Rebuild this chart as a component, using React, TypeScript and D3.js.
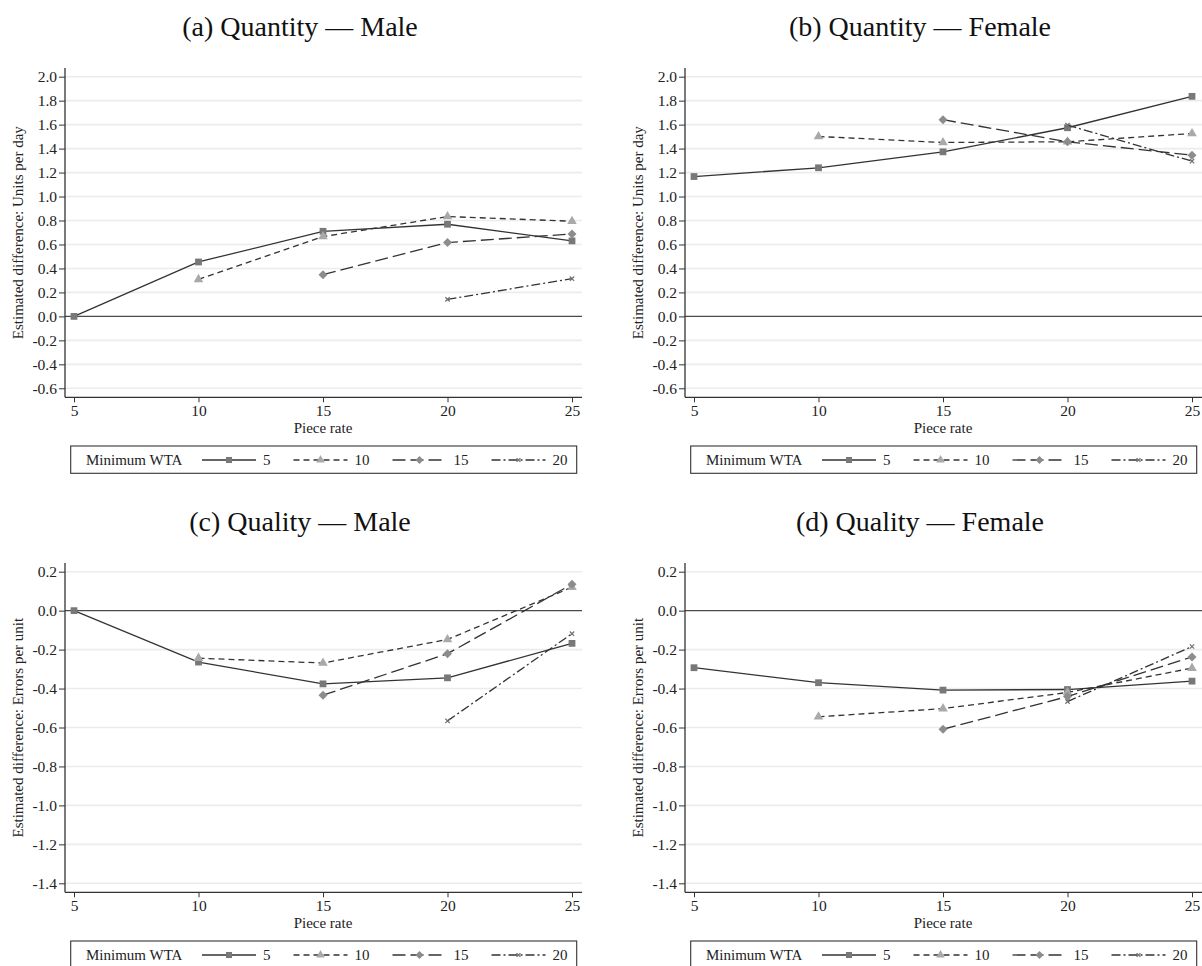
import * as React from 'react';
import { useRef, useEffect } from 'react';
import * as d3 from 'd3';

// piece rates on the x axis
const pieceRates = [5, 10, 15, 20, 25];
const wtaLabels = ['5', '10', '15', '20'];

const quantityTicks = [-0.6, -0.4, -0.2, 0.0, 0.2, 0.4, 0.6, 0.8, 1.0, 1.2, 1.4, 1.6, 1.8, 2.0];
const qualityTicks = [-1.4, -1.2, -1.0, -0.8, -0.6, -0.4, -0.2, 0.0, 0.2];

// (a) Quantity - Male, one array per minimum WTA group (null = not observed)
const qmWta5 = [0.0, 0.454, 0.71, 0.769, 0.63];
const qmWta10 = [null, 0.309, 0.666, 0.833, 0.794];
const qmWta15 = [null, null, 0.348, 0.616, 0.688];
const qmWta20 = [null, null, null, 0.142, 0.315];

// (b) Quantity - Female
const qfWta5 = [1.167, 1.24, 1.373, 1.574, 1.836];
const qfWta10 = [null, 1.501, 1.451, 1.457, 1.526];
const qfWta15 = [null, null, 1.641, 1.457, 1.345];
const qfWta20 = [null, null, null, 1.596, 1.295];

// (c) Quality - Male
const emWta5 = [0.0, -0.264, -0.376, -0.345, -0.168];
const emWta10 = [null, -0.244, -0.269, -0.148, 0.12];
const emWta15 = [null, null, -0.434, -0.221, 0.136];
const emWta20 = [null, null, null, -0.566, -0.118];

// (d) Quality - Female
const efWta5 = [-0.293, -0.37, -0.408, -0.405, -0.362];
const efWta10 = [null, -0.545, -0.503, -0.42, -0.295];
const efWta15 = [null, null, -0.609, -0.441, -0.238];
const efWta20 = [null, null, null, -0.467, -0.184];

type Val = number | null;

interface Panel {
  title: string;
  yLabel: string;
  ticks: number[];
  series: Val[][];
  dx: number;
  dy: number;
}

const panels: Panel[] = [
  { title: '(a) Quantity \u2014 Male', yLabel: 'Estimated difference: Units per day', ticks: quantityTicks, series: [qmWta5, qmWta10, qmWta15, qmWta20], dx: 0, dy: 0 },
  { title: '(b) Quantity \u2014 Female', yLabel: 'Estimated difference: Units per day', ticks: quantityTicks, series: [qfWta5, qfWta10, qfWta15, qfWta20], dx: 620, dy: 0 },
  { title: '(c) Quality \u2014 Male', yLabel: 'Estimated difference: Errors per unit', ticks: qualityTicks, series: [emWta5, emWta10, emWta15, emWta20], dx: 0, dy: 495 },
  { title: '(d) Quality \u2014 Female', yLabel: 'Estimated difference: Errors per unit', ticks: qualityTicks, series: [efWta5, efWta10, efWta15, efWta20], dx: 620, dy: 495 },
];

const timesSymbol = (d3 as any).symbolTimes || d3.symbolCross;

// stata style diamond: a square turned 45 degrees
const squareDiamond: d3.SymbolType = {
  draw(context, size) {
    const r = Math.sqrt(size / 2);
    context.moveTo(0, -r);
    context.lineTo(r, 0);
    context.lineTo(0, r);
    context.lineTo(-r, 0);
    context.closePath();
  }
};

const seriesStyles = [
  { dash: null, symbol: d3.symbolSquare, size: 46, fill: '#787878', stroke: null },
  { dash: '6,4', symbol: d3.symbolTriangle, size: 40, fill: '#a9a9a9', stroke: null },
  { dash: '13,5', symbol: squareDiamond, size: 40, fill: '#8c8c8c', stroke: null },
  { dash: '9,3,2,3', symbol: timesSymbol, size: 14, fill: 'none', stroke: '#707070' },
];

const FONT = '"Liberation Serif", "Times New Roman", serif';
const LINE = '#333';

const fmt = (v: number) => (Math.abs(v) < 1e-9 ? '0.0' : v.toFixed(1));

const App: React.FC = () => {
  const svgRef = useRef<SVGSVGElement>(null);

  useEffect(() => {
    if (!svgRef.current) return;
    const svg = d3.select(svgRef.current);
    svg.selectAll('*').remove();

    panels.forEach(p => {
      const g = svg.append('g').attr('transform', `translate(${p.dx},${p.dy})`);

      const x = d3.scaleLinear().domain([5, 25]).range([74, 572]);
      const y = d3.scaleLinear()
        .domain([p.ticks[0], p.ticks[p.ticks.length - 1]])
        .range([388.3, 76.7]);

      const left = 65, right = 582, top = 68, bottom = 397.3;

      // title
      g.append('text')
        .attr('x', 300)
        .attr('y', 36)
        .attr('text-anchor', 'middle')
        .attr('font-family', FONT)
        .attr('font-size', 28)
        .attr('fill', '#111')
        .text(p.title);

      // grid
      g.selectAll('.grid')
        .data(p.ticks)
        .enter()
        .append('line')
        .attr('x1', left)
        .attr('x2', right)
        .attr('y1', d => y(d))
        .attr('y2', d => y(d))
        .attr('stroke', d => (Math.abs(d) < 1e-9 ? '#4a4a4a' : '#ececec'))
        .attr('stroke-width', d => (Math.abs(d) < 1e-9 ? 1.1 : 1.6));

      // y axis
      const yAxis = g.append('g')
        .attr('transform', `translate(${left},0)`)
        .call(d3.axisLeft(y).tickValues(p.ticks).tickFormat(d => fmt(+d)).tickSize(6).tickPadding(2).tickSizeOuter(0));
      yAxis.select('.domain').remove();
      yAxis.selectAll('line').attr('stroke', LINE);
      yAxis.selectAll('text').attr('font-family', FONT).attr('font-size', 15.5).attr('fill', '#222');
      g.append('line').attr('x1', left).attr('x2', left).attr('y1', top).attr('y2', bottom)
        .attr('stroke', LINE).attr('stroke-width', 1.3);

      // x axis
      const xAxis = g.append('g')
        .attr('transform', `translate(0,${bottom})`)
        .call(d3.axisBottom(x).tickValues(pieceRates).tickFormat(d => String(d)).tickSize(5).tickPadding(3).tickSizeOuter(0));
      xAxis.select('.domain').remove();
      xAxis.selectAll('line').attr('stroke', LINE);
      xAxis.selectAll('text').attr('font-family', FONT).attr('font-size', 15.5).attr('fill', '#222');
      g.append('line').attr('x1', left).attr('x2', right).attr('y1', bottom).attr('y2', bottom)
        .attr('stroke', LINE).attr('stroke-width', 1.3);

      // axis titles
      g.append('text')
        .attr('x', 323)
        .attr('y', 433)
        .attr('text-anchor', 'middle')
        .attr('font-family', FONT)
        .attr('font-size', 15)
        .attr('fill', '#222')
        .text('Piece rate');

      g.append('text')
        .attr('transform', `translate(23,${(top + bottom) / 2}) rotate(-90)`)
        .attr('text-anchor', 'middle')
        .attr('font-family', FONT)
        .attr('font-size', 15)
        .attr('fill', '#222')
        .text(p.yLabel);

      // series
      const line = d3.line<[number, Val]>()
        .defined(d => d[1] != null)
        .x(d => x(d[0]))
        .y(d => y(d[1] as number));

      p.series.forEach((vals, i) => {
        const st = seriesStyles[i];
        const pts: [number, Val][] = pieceRates.map((r, j) => [r, vals[j]]);
        g.append('path')
          .datum(pts)
          .attr('d', line)
          .attr('fill', 'none')
          .attr('stroke', LINE)
          .attr('stroke-width', 1.3)
          .attr('stroke-dasharray', st.dash);

        g.selectAll(`.m${i}`)
          .data(pts.filter(d => d[1] != null))
          .enter()
          .append('path')
          .attr('class', `m${i}`)
          .attr('transform', d => `translate(${x(d[0])},${y(d[1] as number)})`)
          .attr('d', d3.symbol().type(st.symbol).size(st.size)())
          .attr('fill', st.fill)
          .attr('stroke', st.stroke)
          .attr('stroke-width', st.stroke ? 1.2 : null);
      });

      // legend
      const lg = g.append('g');
      lg.append('rect')
        .attr('x', 70.7)
        .attr('y', 446)
        .attr('width', 506)
        .attr('height', 27.3)
        .attr('fill', 'white')
        .attr('stroke', LINE)
        .attr('stroke-width', 1.1);
      lg.append('text')
        .attr('x', 86)
        .attr('y', 465)
        .attr('font-family', FONT)
        .attr('font-size', 15)
        .attr('fill', '#222')
        .text('Minimum WTA');

      let kx = 202;
      const ky = 460;
      wtaLabels.forEach((lab, i) => {
        const st = seriesStyles[i];
        lg.append('line')
          .attr('x1', kx).attr('x2', kx + 54).attr('y1', ky).attr('y2', ky)
          .attr('stroke', LINE).attr('stroke-width', 1.3)
          .attr('stroke-dasharray', st.dash);
        lg.append('path')
          .attr('transform', `translate(${kx + 27},${ky})`)
          .attr('d', d3.symbol().type(st.symbol).size(st.size * 0.8)())
          .attr('fill', st.fill)
          .attr('stroke', st.stroke)
          .attr('stroke-width', st.stroke ? 1.2 : null);
        lg.append('text')
          .attr('x', kx + 61)
          .attr('y', 465)
          .attr('font-family', FONT)
          .attr('font-size', 15)
          .attr('fill', '#222')
          .text(lab);
        kx += 61 + lab.length * 7.5 + 23;
      });
    });
  }, []);

  return (
    <svg
      ref={svgRef}
      width={1202}
      height={966}
      style={{ position: 'absolute', left: 0, top: 0, background: 'white' }}
    />
  );
};

export default App;
